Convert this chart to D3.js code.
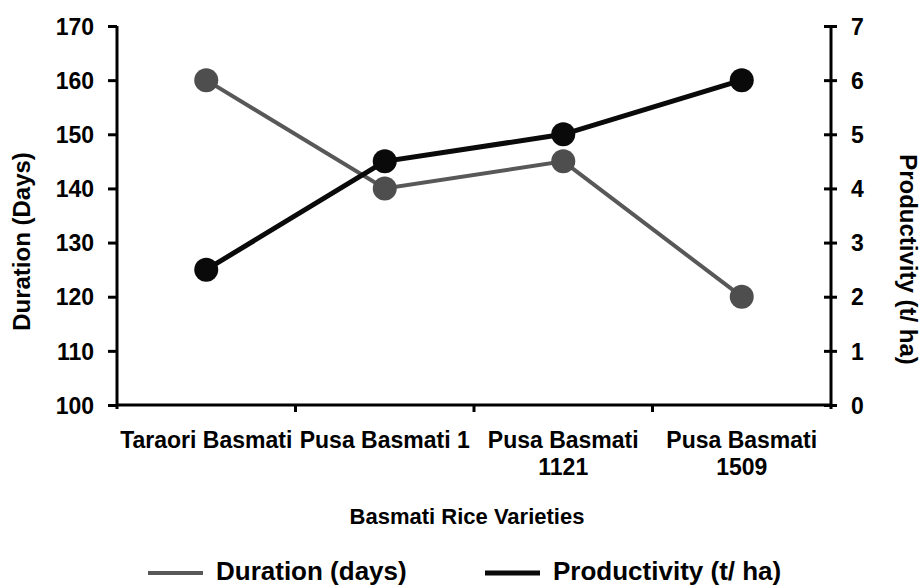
<!DOCTYPE html>
<html>
<head>
<meta charset="utf-8">
<script src="https://cdn.jsdelivr.net/npm/d3@7"></script>
<style>
  html, body { margin: 0; padding: 0; background: #fff; }
  svg { display: block; font-family: "Liberation Sans", Arial, sans-serif; font-weight: bold; }
</style>
</head>
<body>
<svg id="chart" width="922" height="587"></svg>
<script>
// ---- data ----
const categories = ["Taraori Basmati", "Pusa Basmati 1", "Pusa Basmati 1121", "Pusa Basmati 1509"];
const durationDays = [160, 140, 145, 120];
const productivity = [2.5, 4.5, 5, 6];
const leftTicks = [100, 110, 120, 130, 140, 150, 160, 170];
const rightTicks = [0, 1, 2, 3, 4, 5, 6, 7];
const seriesNames = ["Duration (days)", "Productivity (t/ ha)"];
const axisTitles = { left: "Duration (Days)", right: "Productivity (t/ ha)", bottom: "Basmati Rice Varieties" };

(function () {
// ---- layout ----
const svg = d3.select("#chart");
const pL = 117, pR = 831, pT = 26, pB = 405;
const grayCol = "#585858", blackCol = "#0a0a0a";

const x = d3.scaleBand().domain(categories).range([pL, pR]).padding(0);
const yL = d3.scaleLinear().domain([100, 170]).range([pB, pT]);
const yR = d3.scaleLinear().domain([0, 7]).range([pB, pT]);

svg.append("rect").attr("width", 922).attr("height", 587).attr("fill", "#fff");

// left axis
const gL = svg.append("g").attr("transform", `translate(${pL},0)`)
  .call(d3.axisLeft(yL).tickValues(leftTicks).tickFormat(d3.format("d")).tickSizeInner(9).tickSizeOuter(0).tickPadding(14));
gL.select(".domain").attr("stroke", "#000").attr("stroke-width", 3).attr("d", `M0,${pT}V${pB + 4}`);
gL.selectAll(".tick line").attr("stroke", "#000").attr("stroke-width", 3);
gL.selectAll(".tick text").attr("fill", "#000").style("font-size", "23px").attr("dy", "0.36em");

// right axis
const gR = svg.append("g").attr("transform", `translate(${pR},0)`)
  .call(d3.axisRight(yR).tickValues(rightTicks).tickFormat(d3.format("d")).tickSizeInner(6).tickSizeOuter(0).tickPadding(14));
gR.select(".domain").attr("stroke", "#000").attr("stroke-width", 3).attr("d", `M0,${pT}V${pB + 4}`);
gR.selectAll(".tick line").attr("stroke", "#000").attr("stroke-width", 3).attr("x1", -7);
gR.selectAll(".tick text").attr("fill", "#000").style("font-size", "23px").attr("dy", "0.36em");

// bottom axis
svg.append("line").attr("x1", pL).attr("x2", pR).attr("y1", pB).attr("y2", pB)
  .attr("stroke", "#000").attr("stroke-width", 3);
svg.selectAll(".xtick").data(categories.slice(1)).join("line")
  .attr("class", "xtick")
  .attr("x1", d => x(d)).attr("x2", d => x(d))
  .attr("y1", pB).attr("y2", pB + 7)
  .attr("stroke", "#000").attr("stroke-width", 3);

// category labels with wrapping
function wrapLines(text, width, size) {
  const ctx = document.createElement("canvas").getContext("2d");
  ctx.font = `bold ${size}px "Liberation Sans", Arial, sans-serif`;
  const words = text.split(" ");
  const lines = [];
  let cur = "";
  words.forEach(w => {
    const t = cur ? cur + " " + w : w;
    if (ctx.measureText(t).width > width && cur) { lines.push(cur); cur = w; }
    else cur = t;
  });
  if (cur) lines.push(cur);
  return lines;
}
const catG = svg.append("g");
categories.forEach(c => {
  const lines = wrapLines(c, x.bandwidth(), 23);
  const t = catG.append("text")
    .attr("x", x(c) + x.bandwidth() / 2)
    .attr("y", 448)
    .attr("text-anchor", "middle")
    .style("font-size", "23px");
  lines.forEach((ln, i) => {
    t.append("tspan").attr("x", x(c) + x.bandwidth() / 2).attr("dy", i === 0 ? 0 : 27).text(ln);
  });
});

// axis titles
svg.append("text")
  .attr("transform", `translate(30,${(pT + pB) / 2 + 26}) rotate(-90)`)
  .attr("text-anchor", "middle")
  .style("font-size", "24px")
  .text(axisTitles.left);
svg.append("text")
  .attr("transform", `translate(900,${(pT + pB) / 2 + 44}) rotate(90)`)
  .attr("text-anchor", "middle")
  .style("font-size", "24px")
  .text(axisTitles.right);
svg.append("text")
  .attr("x", (pL + pR) / 2 - 7).attr("y", 524)
  .attr("text-anchor", "middle")
  .style("font-size", "22px")
  .text(axisTitles.bottom);

// series
const cx = d => x(d) + x.bandwidth() / 2;
const durLine = d3.line().x((d, i) => cx(categories[i])).y(d => yL(d));
const prodLine = d3.line().x((d, i) => cx(categories[i])).y(d => yR(d));

svg.append("path").datum(durationDays).attr("d", durLine)
  .attr("fill", "none").attr("stroke", grayCol).attr("stroke-width", 4);
svg.selectAll(".durPt").data(durationDays).join("circle").attr("class", "durPt")
  .attr("cx", (d, i) => cx(categories[i])).attr("cy", d => yL(d)).attr("r", 12)
  .attr("fill", "#4e4e4e");

svg.append("path").datum(productivity).attr("d", prodLine)
  .attr("fill", "none").attr("stroke", blackCol).attr("stroke-width", 5);
svg.selectAll(".prodPt").data(productivity).join("circle").attr("class", "prodPt")
  .attr("cx", (d, i) => cx(categories[i])).attr("cy", d => yR(d)).attr("r", 12)
  .attr("fill", blackCol);

// legend
const legend = [
  { name: seriesNames[0], color: grayCol, w: 4, x0: 148 },
  { name: seriesNames[1], color: blackCol, w: 5, x0: 485 }
];
legend.forEach(l => {
  svg.append("line").attr("x1", l.x0).attr("x2", l.x0 + 55).attr("y1", 573).attr("y2", 573)
    .attr("stroke", l.color).attr("stroke-width", l.w);
  svg.append("text").attr("x", l.x0 + 68).attr("y", 580)
    .style("font-size", "26px").text(l.name);
});
})();
</script>
</body>
</html>
